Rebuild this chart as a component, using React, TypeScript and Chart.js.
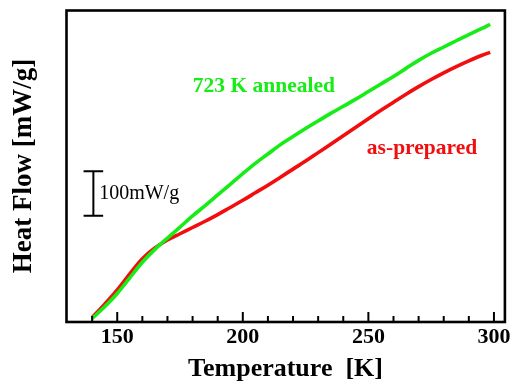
import React, { useEffect, useRef } from 'react';
import { Chart, registerables } from 'chart.js';

Chart.register(...registerables);

// Temperature (K)
const temperatures = [140, 145, 150, 155, 160, 165, 170, 175, 180, 185, 190, 195, 200, 205, 210, 215, 220, 225, 230, 235, 240, 245, 250, 255, 260, 265, 270, 275, 280, 285, 290, 295, 298.5];
// Heat flow (mW/g, arbitrary offset)
const asPrepared = [10, 40, 72, 108, 142, 166, 184, 198, 212, 226, 241, 257, 273, 290, 307, 325, 343, 361, 380, 399, 418, 437, 456, 475, 493, 511, 528, 544, 559, 573, 586, 598, 605];
const annealed = [8, 34, 64, 99, 134, 163, 188, 213, 238, 261, 285, 309, 333, 356, 377, 398, 416, 434, 451, 468, 484, 500, 517, 534, 551, 569, 587, 603, 617, 631, 645, 658, 668];

// Scale bar: 100 mW/g
const scaleBarT = 140.5;
const scaleBarCapT = [136.6, 144.4];
const scaleBarLow = 238.5;
const scaleBarHigh = 338.5;

const xMin = 129.6;
const xMax = 304.4;
const yMin = 0;
const yMax = 700;

const SERIF = "'Liberation Serif', 'Times New Roman', serif";
const GREEN = 'rgb(22, 236, 22)';
const RED = 'rgb(242, 14, 14)';

const decorPlugin = {
  id: 'decor',
  afterDraw(chart: any) {
    const { ctx, chartArea: a, scales } = chart;
    const xs = scales.x;
    const ys = scales.y;
    ctx.save();
    // frame
    ctx.strokeStyle = '#000';
    ctx.lineWidth = 2.6;
    ctx.strokeRect(a.left + 0.5, a.top + 0.5, a.right - a.left - 0.6, a.bottom - a.top - 0.5);
    // inner ticks
    ctx.lineWidth = 2;
    xs.ticks.forEach((t: any) => {
      if (t.value < 135) return;
      const px = xs.getPixelForValue(t.value);
      const major = Math.abs(t.value % 50) < 1e-6;
      ctx.beginPath();
      ctx.moveTo(px, a.bottom);
      ctx.lineTo(px, a.bottom - (major ? 10 : 6));
      ctx.stroke();
    });
    // texts
    ctx.textAlign = 'left';
    ctx.textBaseline = 'alphabetic';
    ctx.fillStyle = GREEN;
    ctx.font = `bold 21.5px ${SERIF}`;
    ctx.fillText('723 K annealed', xs.getPixelForValue(180.1), ys.getPixelForValue(516.7));
    ctx.fillStyle = RED;
    ctx.fillText('as-prepared', xs.getPixelForValue(249.4), ys.getPixelForValue(376.9));
    ctx.fillStyle = '#000';
    ctx.font = `20px ${SERIF}`;
    ctx.textBaseline = 'middle';
    ctx.fillText('100mW/g', xs.getPixelForValue(142.8), ys.getPixelForValue(288.5));
    ctx.restore();
  },
};

export default function App() {
  const ref = useRef<HTMLCanvasElement | null>(null);

  useEffect(() => {
    if (!ref.current) return;
    const annealedData = temperatures.map((t, i) => ({ x: t, y: annealed[i] }));
    const preparedData = temperatures.map((t, i) => ({ x: t, y: asPrepared[i] }));
    const barData = [
      { x: scaleBarCapT[0], y: scaleBarHigh },
      { x: scaleBarCapT[1], y: scaleBarHigh },
      { x: scaleBarCapT[1] + 0.1, y: null },
      { x: scaleBarT, y: scaleBarHigh },
      { x: scaleBarT, y: scaleBarLow },
      { x: scaleBarT + 0.1, y: null },
      { x: scaleBarCapT[0], y: scaleBarLow },
      { x: scaleBarCapT[1], y: scaleBarLow },
    ];
    const chart = new Chart(ref.current, {
      type: 'line',
      data: {
        datasets: [
          {
            label: '723 K annealed',
            data: annealedData,
            borderColor: GREEN,
            borderWidth: 3.6,
            pointRadius: 0,
            tension: 0.35,
            fill: false,
          },
          {
            label: 'as-prepared',
            data: preparedData,
            borderColor: RED,
            borderWidth: 3.6,
            pointRadius: 0,
            tension: 0.35,
            fill: false,
          },
          {
            label: 'scale',
            data: barData as any,
            borderColor: '#000',
            borderWidth: 2,
            pointRadius: 0,
            tension: 0,
            spanGaps: false,
            fill: false,
          },
        ],
      },
      options: {
        animation: false,
        responsive: false,
        events: [],
        layout: { padding: { left: 0, right: 11, top: 10, bottom: 0 } },
        plugins: { legend: { display: false }, tooltip: { enabled: false } },
        scales: {
          x: {
            type: 'linear',
            min: xMin,
            max: xMax,
            grid: { display: false, drawTicks: false },
            border: { display: false },
            ticks: {
              stepSize: 10,
              includeBounds: false,
              autoSkip: false,
              maxRotation: 0,
              padding: 2,
              color: '#000',
              font: { family: SERIF, size: 22, weight: 'bold' },
              callback: (v: any) => (Math.abs(Number(v) % 50) < 1e-6 ? String(v) : ''),
            },
            title: {
              display: true,
              text: 'Temperature  [K]',
              color: '#000',
              font: { family: SERIF, size: 26, weight: 'bold', lineHeight: 1 },
              padding: { top: 0, bottom: 0 },
            },
            afterFit: (s: any) => {
              s.height = 60;
            },
          },
          y: {
            type: 'linear',
            min: yMin,
            max: yMax,
            grid: { display: false, drawTicks: false },
            border: { display: false },
            ticks: { display: false },
            title: {
              display: true,
              text: 'Heat Flow [mW/g]',
              color: '#000',
              font: { family: SERIF, size: 27, weight: 'bold', lineHeight: 1 },
              padding: { top: 10.5, bottom: 0 },
            },
            afterFit: (s: any) => {
              s.width = 66;
            },
          },
        },
      } as any,
      plugins: [decorPlugin],
    });
    return () => chart.destroy();
  }, []);

  return (
    <div style={{ position: 'fixed', left: 0, top: 0, width: 516, height: 382, background: '#fff' }}>
      <canvas ref={ref} width={516} height={382} style={{ display: 'block' }} />
    </div>
  );
}
